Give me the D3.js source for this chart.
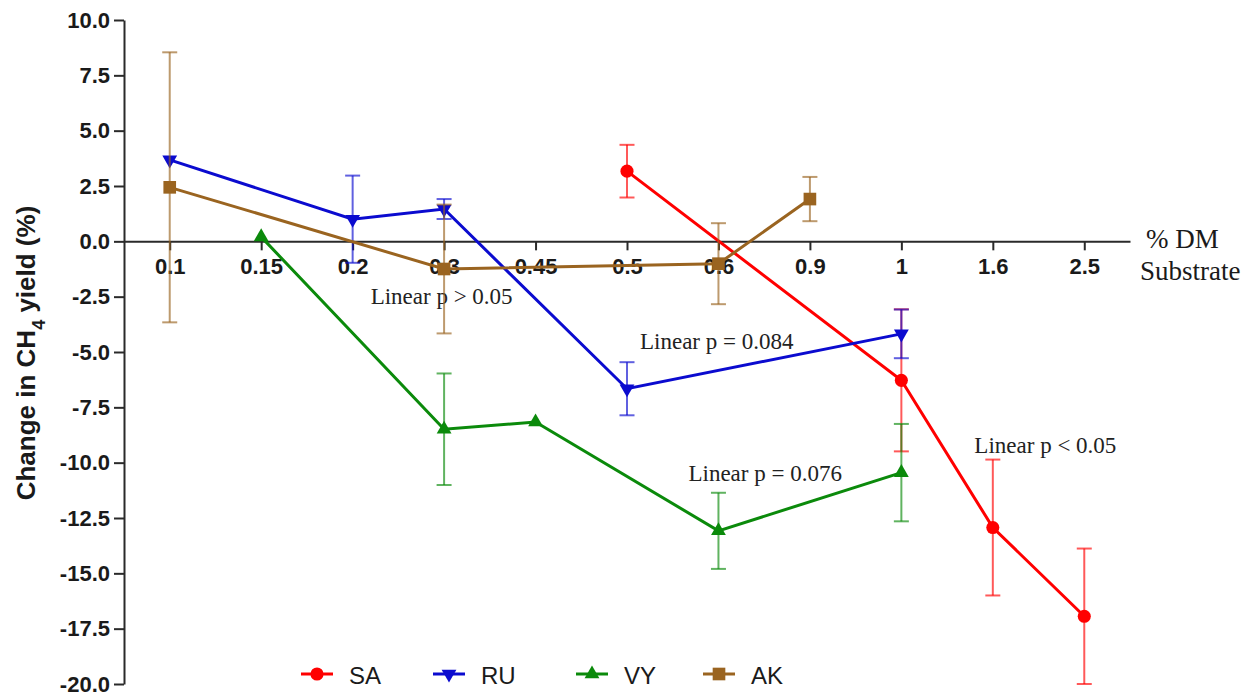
<!DOCTYPE html>
<html>
<head>
<meta charset="utf-8">
<script src="https://cdn.jsdelivr.net/npm/d3@7"></script>
<style>
  body { margin: 0; background: #fff; }
  svg { display: block; }
</style>
</head>
<body>
<svg id="chart" width="1256" height="692"></svg>
<script>
// x categories (% DM substrate) and y ticks
const categories = ["0.1", "0.15", "0.2", "0.3", "0.45", "0.5", "0.6", "0.9", "1", "1.6", "2.5"]
const yTicks = [-20, -17.5, -15, -12.5, -10, -7.5, -5, -2.5, 0, 2.5, 5, 7.5, 10]

// series: dose category, mean change, error (SEM)
const saDose = ["0.5", "1", "1.6", "2.5"]
const saMean = [3.17, -6.28, -12.93, -16.94]
const saErr  = [1.19, 3.21, 3.07, 3.06]

const ruDose = ["0.1", "0.2", "0.3", "0.5", "1"]
const ruMean = [3.68, 1.0, 1.46, -6.66, -4.18]
const ruErr  = [0, 1.97, 0.45, 1.2, 1.1]

const vyDose = ["0.15", "0.3", "0.45", "0.6", "1"]
const vyMean = [0.2, -8.49, -8.16, -13.08, -10.45]
const vyErr  = [0, 2.52, 0, 1.72, 2.2]

const akDose = ["0.1", "0.3", "0.6", "0.9"]
const akMean = [2.44, -1.25, -1.01, 1.91]
const akErr  = [6.1, 2.91, 1.83, 1.0]

const seriesNames = ["SA", "RU", "VY", "AK"]
const seriesColors = ["#ff0000", "#0b0bcf", "#0b8a0b", "#9a6420"]

const notes = [
  {text: "Linear p > 0.05", at: "0.2", dx: 18, y: -2.85},
  {text: "Linear p = 0.084", at: "0.5", dx: 13, y: -4.88},
  {text: "Linear p = 0.076", at: "0.6", dx: -30, y: -10.83},
  {text: "Linear p < 0.05", at: "1", dx: 73, y: -9.58}
]

const svg = d3.select("#chart")

const x = d3.scalePoint().domain(categories).range([124, 1130]).padding(0.5)
const y = d3.scaleLinear().domain([-20, 10]).range([684, 20])

const axisColor = "#2a2a2a"

// y axis
const gy = svg.append("g")
  .attr("transform", "translate(124,0)")
  .call(d3.axisLeft(y).tickValues(yTicks).tickSize(10).tickSizeOuter(0).tickPadding(4)
    .tickFormat(d => d.toFixed(1)))
gy.select(".domain").attr("stroke", axisColor).attr("stroke-width", 2)
gy.selectAll(".tick line").attr("stroke", axisColor).attr("stroke-width", 2)
gy.selectAll(".tick text")
  .attr("fill", "#1a1a1a")
  .style("font", "bold 22px 'Liberation Sans', Arial, sans-serif")

// x axis on the zero line
const gx = svg.append("g")
  .attr("transform", `translate(0,${y(0)})`)
  .call(d3.axisBottom(x).tickSize(9).tickSizeOuter(0).tickPadding(8))
gx.select(".domain").attr("stroke", axisColor).attr("stroke-width", 2)
gx.selectAll(".tick line").attr("stroke", axisColor).attr("stroke-width", 2)
gx.selectAll(".tick text")
  .attr("fill", "#1a1a1a")
  .style("font", "bold 22px 'Liberation Sans', Arial, sans-serif")

// axis titles
const xTitle = svg.append("text")
  .attr("fill", "#1a1a1a")
  .style("font", "27px 'Liberation Serif', 'Times New Roman', serif")
xTitle.append("tspan").attr("x", 1146).attr("y", y(0) + 7).text("% DM")
xTitle.append("tspan").attr("x", 1140).attr("y", y(0) + 39).text("Substrate")

const yTitle = svg.append("text")
  .attr("transform", "translate(35,353) rotate(-90)")
  .attr("text-anchor", "middle")
  .attr("fill", "#1a1a1a")
  .style("font", "bold 26px 'Liberation Sans', Arial, sans-serif")
yTitle.append("tspan").text("Change in CH")
yTitle.append("tspan").attr("baseline-shift", "sub").style("font-size", "18px").text("4")
yTitle.append("tspan").text(" yield (%)")

// annotations
svg.append("g").selectAll("text")
  .data(notes)
  .join("text")
  .attr("x", d => x(d.at) + d.dx)
  .attr("y", d => y(d.y))
  .attr("fill", "#222")
  .style("font", "23px 'Liberation Serif', 'Times New Roman', serif")
  .text(d => d.text)

const symbols = [
  d3.symbol().type(d3.symbolCircle).size(135),
  d3.symbol().type(d3.symbolTriangle).size(95),
  d3.symbol().type(d3.symbolTriangle).size(95),
  d3.symbol().type(d3.symbolSquare).size(160)
]
const rotations = [0, 180, 0, 0]

const series = [
  {dose: saDose, mean: saMean, err: saErr},
  {dose: ruDose, mean: ruMean, err: ruErr},
  {dose: vyDose, mean: vyMean, err: vyErr},
  {dose: akDose, mean: akMean, err: akErr}
].map((s, i) => ({
  name: seriesNames[i],
  color: seriesColors[i],
  symbol: symbols[i],
  rot: rotations[i],
  points: s.dose.map((d, j) => ({dose: d, mean: s.mean[j], err: s.err[j]}))
}))

const line = d3.line().x(d => x(d.dose)).y(d => y(d.mean))
const cap = 7.5

series.forEach(s => {
  const g = svg.append("g")
  const bars = g.append("g")
    .attr("stroke", s.color)
    .attr("stroke-opacity", 0.65)
    .attr("stroke-width", 2)
    .selectAll("g")
    .data(s.points.filter(p => p.err > 0))
    .join("g")
  bars.append("line")
    .attr("x1", d => x(d.dose)).attr("x2", d => x(d.dose))
    .attr("y1", d => y(d.mean + d.err)).attr("y2", d => y(d.mean - d.err))
  bars.append("line")
    .attr("x1", d => x(d.dose) - cap).attr("x2", d => x(d.dose) + cap)
    .attr("y1", d => y(d.mean + d.err)).attr("y2", d => y(d.mean + d.err))
  bars.append("line")
    .attr("x1", d => x(d.dose) - cap).attr("x2", d => x(d.dose) + cap)
    .attr("y1", d => y(d.mean - d.err)).attr("y2", d => y(d.mean - d.err))

  g.append("path")
    .datum(s.points)
    .attr("fill", "none")
    .attr("stroke", s.color)
    .attr("stroke-width", 3)
    .attr("d", line)

  g.append("g").selectAll("path")
    .data(s.points)
    .join("path")
    .attr("transform", d => `translate(${x(d.dose)},${y(d.mean)}) rotate(${s.rot})`)
    .attr("fill", s.color)
    .attr("d", s.symbol())
})

// legend
const legendX = [301, 433, 576, 703]
const legend = svg.append("g").selectAll("g")
  .data(series)
  .join("g")
  .attr("transform", (d, i) => `translate(${legendX[i]},674)`)
legend.append("line")
  .attr("x1", 0).attr("x2", 32)
  .attr("stroke", d => d.color).attr("stroke-width", 3)
legend.append("path")
  .attr("transform", d => `translate(16,0) rotate(${d.rot})`)
  .attr("fill", d => d.color)
  .attr("d", d => d.symbol())
legend.append("text")
  .attr("x", 48).attr("y", 10)
  .attr("fill", "#1a1a1a")
  .style("font", "24px 'Liberation Sans', Arial, sans-serif")
  .text(d => d.name)
</script>
</body>
</html>
